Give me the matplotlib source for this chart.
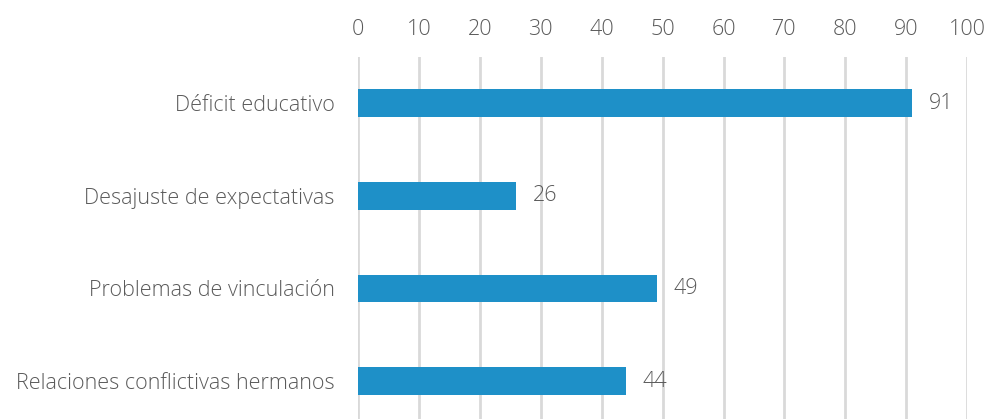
import matplotlib
matplotlib.use("Agg")
import matplotlib.pyplot as plt

categories = ["Déficit educativo", "Desajuste de expectativas",
              "Problemas de vinculación", "Relaciones conflictivas hermanos"]
values = [91, 26, 49, 44]
xticks = [0, 10, 20, 30, 40, 50, 60, 70, 80, 90, 100]

BAR = "#1e90c8"
TEXT = "#5a5a5a"
GRID = "#d9d9d9"
FS = 15.5
W = 300

plt.rcParams["font.family"] = ["Open Sans", "DejaVu Sans"]

fig = plt.figure(figsize=(9.89, 4.19), dpi=100)
ax = fig.add_axes([0.362, 0.0, 0.616, 0.864])

y = list(range(len(categories)))
ax.barh(y, values, height=0.30, color=BAR, zorder=3)
for yi, v in zip(y, values):
    ax.annotate(str(v), (v, yi), xytext=(12, 0), textcoords="offset points",
                va="center", ha="left", color=TEXT, fontsize=FS, fontweight=W)

ax.set_xlim(0, 100)
ax.set_ylim(3.41, -0.5)
ax.set_xticks(xticks)
ax.set_xticklabels([str(t) for t in xticks])
ax.set_yticks(y)
ax.set_yticklabels(categories)
ax.xaxis.tick_top()
ax.tick_params(axis="x", length=0, pad=12, labelsize=FS, labelcolor=TEXT)
ax.tick_params(axis="y", length=0, pad=17, labelsize=FS, labelcolor=TEXT)
for lab in ax.get_xticklabels() + ax.get_yticklabels():
    lab.set_fontweight(W)

ax.grid(axis="x", color=GRID, linewidth=2, zorder=0)
for s in ax.spines.values():
    s.set_visible(False)

fig.savefig("out.png", dpi=100)
